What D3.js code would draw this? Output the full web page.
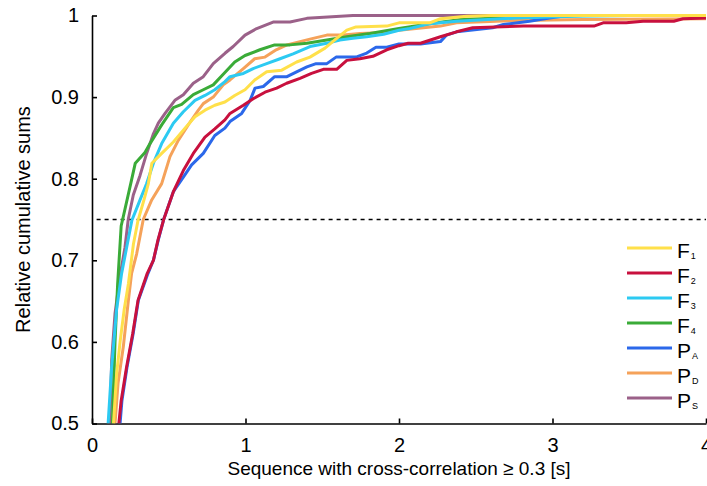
<!DOCTYPE html>
<html>
<head>
<meta charset="utf-8">
<script src="https://cdn.jsdelivr.net/npm/d3@7"></script>
<style>
  html, body { margin: 0; padding: 0; background: #fff; }
  svg { display: block; font-family: "Liberation Sans", Arial, sans-serif; }
</style>
</head>
<body>
<svg id="chart" width="707" height="486"></svg>
<script>
// Relative cumulative sums of sequence durations, one [seconds, value] list per class
const F1 = [[0.14,0.5],[0.16,0.56],[0.183,0.6],[0.21,0.64],[0.237,0.671],[0.27,0.72],[0.30,0.749],[0.34,0.775],[0.367,0.794],[0.39,0.819],[0.454,0.831],[0.53,0.845],[0.606,0.862],[0.671,0.876],[0.736,0.884],[0.80,0.89],[0.866,0.894],[0.93,0.902],[0.997,0.909],[1.06,0.921],[1.138,0.931],[1.236,0.933],[1.333,0.943],[1.42,0.949],[1.518,0.96],[1.594,0.972],[1.66,0.982],[1.72,0.986],[1.92,0.987],[2.0,0.991],[2.2,0.991],[2.27,0.996],[2.44,0.999],[2.6,1.0],[4.0,1.0]];
const F2 = [[0.175,0.5],[0.19,0.528],[0.225,0.569],[0.265,0.61],[0.30,0.651],[0.36,0.684],[0.40,0.70],[0.43,0.725],[0.467,0.75],[0.53,0.784],[0.595,0.81],[0.66,0.831],[0.736,0.851],[0.80,0.861],[0.866,0.872],[0.899,0.880],[0.986,0.890],[1.05,0.898],[1.127,0.906],[1.203,0.911],[1.268,0.917],[1.355,0.923],[1.43,0.929],[1.507,0.934],[1.594,0.934],[1.66,0.945],[1.745,0.947],[1.83,0.950],[1.92,0.958],[2.0,0.963],[2.06,0.966],[2.14,0.966],[2.27,0.974],[2.375,0.98],[2.48,0.985],[2.81,0.987],[3.27,0.987],[3.33,0.991],[3.48,0.991],[3.59,0.993],[3.79,0.993],[3.85,0.996],[4.0,0.997]];
const F3 = [[0.105,0.5],[0.128,0.569],[0.16,0.639],[0.193,0.684],[0.226,0.716],[0.26,0.749],[0.313,0.774],[0.356,0.794],[0.40,0.819],[0.454,0.843],[0.53,0.868],[0.595,0.882],[0.671,0.896],[0.736,0.902],[0.80,0.909],[0.866,0.919],[0.899,0.925],[0.986,0.929],[1.05,0.935],[1.138,0.941],[1.225,0.947],[1.31,0.953],[1.42,0.962],[1.53,0.966],[1.615,0.970],[1.70,0.972],[1.79,0.974],[1.90,0.977],[2.0,0.982],[2.07,0.984],[2.2,0.99],[2.375,0.993],[2.77,0.997],[3.14,0.999],[3.5,1.0],[4.0,1.0]];
const F4 = [[0.133,0.5],[0.15,0.6],[0.167,0.671],[0.19,0.742],[0.256,0.797],[0.282,0.819],[0.345,0.832],[0.378,0.843],[0.454,0.866],[0.53,0.887],[0.584,0.891],[0.66,0.903],[0.725,0.909],[0.79,0.915],[0.855,0.928],[0.93,0.943],[0.997,0.951],[1.094,0.958],[1.19,0.964],[1.29,0.964],[1.40,0.966],[1.53,0.97],[1.66,0.974],[1.81,0.978],[2.0,0.984],[2.2,0.99],[2.4,0.995],[2.8,0.998],[3.2,1.0],[4.0,1.0]];
const PA = [[0.183,0.5],[0.195,0.528],[0.228,0.569],[0.268,0.61],[0.302,0.651],[0.365,0.684],[0.40,0.70],[0.432,0.725],[0.467,0.75],[0.53,0.784],[0.595,0.802],[0.649,0.817],[0.725,0.831],[0.80,0.853],[0.866,0.862],[0.899,0.870],[0.975,0.880],[1.03,0.896],[1.062,0.911],[1.116,0.913],[1.19,0.925],[1.27,0.925],[1.333,0.931],[1.40,0.937],[1.46,0.941],[1.53,0.941],[1.59,0.949],[1.72,0.949],[1.79,0.954],[1.85,0.961],[1.92,0.961],[2.0,0.965],[2.14,0.965],[2.27,0.968],[2.31,0.976],[2.375,0.98],[2.61,0.985],[2.68,0.989],[2.85,0.993],[2.98,0.997],[3.1,1.0],[4.0,1.0]];
const PD = [[0.15,0.5],[0.17,0.55],[0.204,0.594],[0.237,0.651],[0.258,0.684],[0.291,0.708],[0.334,0.75],[0.389,0.774],[0.454,0.794],[0.508,0.827],[0.562,0.847],[0.627,0.866],[0.693,0.884],[0.725,0.892],[0.79,0.90],[0.855,0.915],[0.899,0.921],[0.986,0.935],[1.06,0.947],[1.127,0.949],[1.2,0.958],[1.27,0.964],[1.355,0.968],[1.42,0.971],[1.53,0.976],[1.637,0.976],[1.745,0.978],[1.876,0.979],[2.0,0.982],[2.27,0.987],[2.375,0.991],[2.77,0.994],[3.2,0.995],[4.0,0.996]];
const PS = [[0.117,0.5],[0.128,0.577],[0.15,0.635],[0.182,0.68],[0.215,0.716],[0.236,0.75],[0.269,0.78],[0.313,0.804],[0.356,0.831],[0.40,0.855],[0.432,0.868],[0.476,0.88],[0.54,0.896],[0.595,0.903],[0.66,0.917],[0.725,0.925],[0.79,0.941],[0.868,0.954],[0.92,0.962],[0.997,0.976],[1.073,0.984],[1.18,0.992],[1.29,0.992],[1.40,0.9965],[1.51,0.998],[1.70,1.0],[4.0,1.0]];

const seriesNames = ["F1", "F2", "F3", "F4", "PA", "PD", "PS"];
const seriesMain = ["F", "F", "F", "F", "P", "P", "P"];
const seriesSub = ["1", "2", "3", "4", "A", "D", "S"];
const seriesData = [F1, F2, F3, F4, PA, PD, PS];
const seriesColors = ["#ffe04a", "#c8103e", "#2ccaf2", "#3aab38", "#2b68ea", "#f5a25a", "#9b6189"];

const xTicks = [0, 1, 2, 3, 4];
const yTicks = [0.5, 0.6, 0.7, 0.8, 0.9, 1];
const threshold = 0.75;

const svg = d3.select("#chart");
const plotLeft = 92, plotRight = 706, plotTop = 15.5, plotBottom = 423.5;

const x = d3.scaleLinear().domain([0, 4]).range([plotLeft, plotRight]);
const y = d3.scaleLinear().domain([0.5, 1]).range([plotBottom, plotTop]);

svg.append("defs").append("clipPath").attr("id", "plot")
  .append("rect").attr("x", plotLeft).attr("y", plotTop - 3)
  .attr("width", plotRight - plotLeft + 2).attr("height", plotBottom - plotTop + 3);

// axes with inward ticks
const yAxis = d3.axisLeft(y).tickValues(yTicks).tickSizeInner(-5).tickSizeOuter(0)
  .tickPadding(13).tickFormat(d => d === 1 ? "1" : d3.format(".1f")(d));
const xAxis = d3.axisBottom(x).tickValues(xTicks).tickSizeInner(-5).tickSizeOuter(0)
  .tickPadding(14).tickFormat(d3.format("d"));

const gy = svg.append("g").attr("transform", `translate(${plotLeft},0)`).call(yAxis);
const gx = svg.append("g").attr("transform", `translate(0,${plotBottom})`).call(xAxis);
[gx, gy].forEach(g => {
  g.select(".domain").attr("stroke", "#000").attr("stroke-width", 1.6);
  g.selectAll(".tick line").attr("stroke", "#000").attr("stroke-width", 1.6);
  g.selectAll(".tick text").attr("fill", "#000").attr("font-size", 20)
    .attr("font-family", "'Liberation Sans', Arial, sans-serif");
});

// 0.75 reference level
svg.append("line")
  .attr("x1", x(0.03)).attr("x2", x(4)).attr("y1", y(threshold)).attr("y2", y(threshold))
  .attr("stroke", "#000").attr("stroke-width", 1.5).attr("stroke-dasharray", "4,4");

// curves: later classes underneath, F1 on top
const line = d3.line().x(d => x(d[0])).y(d => y(d[1]));
const order = d3.range(seriesData.length).reverse();
svg.append("g").attr("clip-path", "url(#plot)")
  .selectAll("path").data(order).join("path")
  .attr("d", i => line(seriesData[i]))
  .attr("fill", "none")
  .attr("stroke", i => seriesColors[i])
  .attr("stroke-width", 3)
  .attr("stroke-linejoin", "round");

// legend
const legend = svg.append("g").attr("transform", "translate(627,248)");
const rows = legend.selectAll("g").data(seriesNames).join("g")
  .attr("transform", (d, i) => `translate(0,${i * 25})`);
rows.append("line").attr("x1", 0).attr("x2", 45).attr("y1", 0).attr("y2", 0)
  .attr("stroke", (d, i) => seriesColors[i]).attr("stroke-width", 3);
const labels = rows.append("text").attr("x", 50).attr("y", 10).attr("fill", "#000").attr("font-size", 21);
labels.append("tspan").text((d, i) => seriesMain[i]);
labels.append("tspan").attr("font-size", 9).attr("dx", 1).attr("dy", 1).text((d, i) => seriesSub[i]);

// axis titles
svg.append("text").attr("x", (plotLeft + plotRight) / 2).attr("y", 475).attr("text-anchor", "middle")
  .attr("font-size", 19).attr("fill", "#000").text("Sequence with cross-correlation ≥ 0.3 [s]");
svg.append("text").attr("transform", `translate(30,${(plotTop + plotBottom) / 2}) rotate(-90)`)
  .attr("text-anchor", "middle").attr("font-size", 20).attr("fill", "#000").text("Relative cumulative sums");
</script>
</body>
</html>
